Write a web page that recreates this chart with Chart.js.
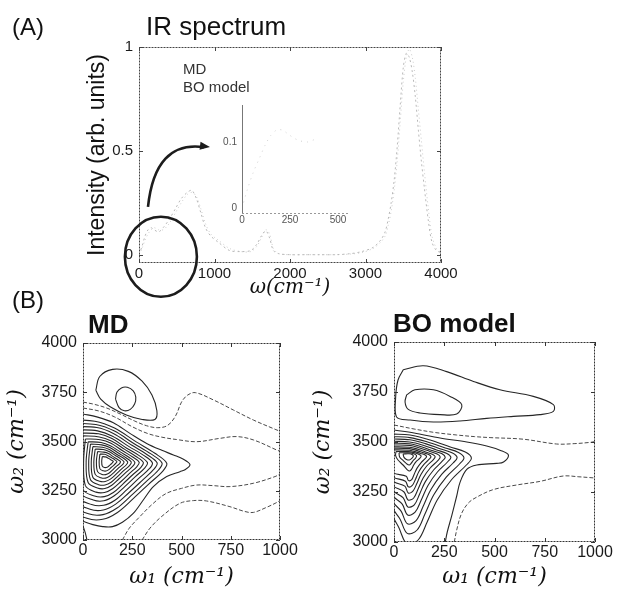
<!DOCTYPE html>
<html><head><meta charset="utf-8">
<script src="https://cdn.jsdelivr.net/npm/chart.js@4.4.1/dist/chart.umd.min.js"></script>
<style>
html,body{margin:0;padding:0;background:#fff;}
#wrap{position:relative;width:620px;height:590px;overflow:hidden;font-family:"Liberation Sans",Arial,Helvetica,sans-serif;color:#111;background:#fff;}
canvas{position:absolute;}
.t{position:absolute;white-space:nowrap;line-height:1;}
</style></head><body>
<div id="wrap">
<canvas id="cA" style="left:0;top:0;width:460px;height:300px" width="460" height="300"></canvas>
<canvas id="cIn" style="left:195px;top:90px;width:175px;height:140px" width="175" height="140"></canvas>
<canvas id="cMD" style="left:0;top:300px;width:300px;height:290px" width="300" height="290"></canvas>
<canvas id="cBO" style="left:310px;top:300px;width:310px;height:290px" width="310" height="290"></canvas>
<div class="t" style="left:12px;top:15px;font-size:24px;">(A)</div>
<div class="t" style="left:146px;top:13px;font-size:26px;">IR spectrum</div>
<div class="t" style="left:183px;top:61px;font-size:15px;color:#333;">MD</div>
<div class="t" style="left:183px;top:79px;font-size:15px;color:#333;">BO model</div>
<div class="t" style="left:12px;top:288px;font-size:24px;">(B)</div>
<div class="t" style="left:88px;top:311px;font-size:26px;font-weight:bold;">MD</div>
<div class="t" style="left:393px;top:310px;font-size:26px;font-weight:bold;">BO model</div>
</div>
<script>
const FONT = '"Liberation Sans", Arial, Helvetica, sans-serif';
const SERIF = '"DejaVu Serif", "Liberation Serif", serif';

// ---------- Panel A: IR spectrum ----------
const irWavenumber = [0,40,80,120,160,200,260,320,400,480,560,640,700,760,820,880,950,1050,1200,1350,1480,1560,1620,1680,1730,1780,1850,2000,2200,2400,2600,2800,2950,3100,3200,3260,3300,3340,3380,3420,3460,3500,3540,3580,3620,3660,3700,3740,3780,3830,3880,3940,4000];
const irMD = [0,0.04,0.09,0.12,0.13,0.12,0.11,0.13,0.17,0.22,0.27,0.30,0.31,0.27,0.20,0.13,0.09,0.06,0.02,0.015,0.02,0.05,0.09,0.115,0.08,0.02,0.005,0,0,0,0,0.005,0.015,0.035,0.07,0.11,0.17,0.25,0.36,0.52,0.72,0.90,0.97,0.95,0.88,0.76,0.60,0.45,0.32,0.17,0.06,0.02,0.01];
const irBO = [0,0.03,0.07,0.10,0.12,0.13,0.12,0.12,0.15,0.20,0.25,0.29,0.30,0.28,0.22,0.15,0.10,0.07,0.03,0.015,0.015,0.04,0.08,0.12,0.10,0.03,0.005,0,0,0,0,0.003,0.01,0.03,0.06,0.09,0.14,0.21,0.31,0.45,0.64,0.83,0.95,0.99,0.95,0.85,0.70,0.55,0.40,0.23,0.09,0.03,0.01];
const irTicksX = [0,1000,2000,3000,4000];
const irTicksY = [0,0.5,1];
const insetWavenumber = [0,30,60,90,120,150,180,210,240,270,300,340,380];
const insetIntensity = [0,0.03,0.055,0.075,0.095,0.11,0.118,0.118,0.112,0.106,0.102,0.10,0.104];
const insetTicksX = [0,250,500];
const insetTicksY = [0,0.1];
const zoomCircleCenter = [290,-0.01];
const zoomArrow = [[119,0.23],[212,0.552],[940,0.518]];

// ---------- Panel B: 2D maps ----------
const mapTicksW1 = [0,250,500,750,1000];
const mapTicksW2 = [3000,3250,3500,3750,4000];

// MD contours [w1, w2]
const mdIslandOuter = [[65,3760],[85,3830],[150,3866],[230,3856],[300,3806],[350,3736],[375,3656],[365,3612],[300,3612],[220,3635],[140,3675],[90,3715],[65,3760]];
const mdIslandInner = [[165,3715],[172,3750],[195,3772],[225,3775],[255,3757],[268,3725],[262,3690],[240,3663],[210,3656],[183,3672],[165,3715]];
const mdC1 = [[0,3700],[52,3690],[120,3670],[188,3640],[260,3605],[323,3580],[380,3570],[430,3582],[470,3630],[500,3700],[530,3735],[570,3748],[662,3711],[763,3660],[865,3609],[975,3562],[1000,3552]];
const mdC2 = [[0,3670],[80,3655],[160,3625],[250,3575],[330,3540],[400,3522],[475,3510],[577,3499],[695,3516],[780,3525],[865,3508],[983,3457],[1000,3450]];
const mdC3 = [[0,3640],[70,3625],[154,3595],[240,3540],[323,3490],[400,3455],[459,3432],[510,3410],[543,3383],[520,3358],[492,3347],[425,3322],[357,3271],[306,3203],[255,3135],[200,3090],[150,3068],[100,3068],[50,3078],[0,3095]];
const mdC4 = [[200,3000],[235,3060],[290,3120],[350,3180],[420,3235],[500,3262],[577,3279],[660,3276],[746,3271],[865,3288],[975,3322],[1000,3335]];
const mdC5 = [[300,3000],[340,3060],[400,3120],[492,3186],[560,3200],[628,3198],[746,3169],[820,3145],[865,3140],[930,3165],[975,3186],[1000,3200]];
const mdC6 = [[0,3072],[12,3035],[20,3000]];
const mdL1 = [[-80,3610],[60,3603],[160,3568],[270,3498],[365,3440],[425,3390],[405,3350],[335,3285],[255,3210],[175,3140],[100,3105],[20,3110],[-80,3170],[-80,3610]];
const mdL2 = [[-64,3593],[65,3586],[157,3554],[258,3490],[345,3437],[401,3391],[382,3354],[318,3294],[244,3225],[171,3161],[102,3129],[28,3133],[-64,3188],[-64,3593]];
const mdL3 = [[-48,3576],[70,3571],[154,3541],[246,3482],[326,3433],[376,3392],[359,3358],[301,3303],[233,3240],[166,3182],[103,3152],[36,3156],[-48,3207],[-48,3576]];
const mdL4 = [[-32,3560],[74,3554],[150,3527],[234,3474],[306,3431],[352,3392],[337,3362],[283,3313],[223,3256],[162,3202],[105,3176],[44,3180],[-32,3225],[-32,3560]];
const mdL5 = [[-16,3543],[79,3539],[147,3515],[222,3466],[287,3427],[327,3393],[314,3366],[266,3322],[212,3271],[157,3223],[106,3199],[52,3203],[-16,3244],[-16,3543]];
const mdL6 = [[-2,3529],[83,3523],[144,3502],[212,3460],[269,3424],[306,3394],[294,3369],[251,3330],[202,3284],[154,3241],[108,3220],[59,3223],[-2,3260],[-2,3529]];
const mdL7 = [[12,3513],[88,3509],[142,3491],[201,3453],[252,3421],[285,3395],[274,3373],[236,3338],[193,3297],[150,3260],[109,3241],[66,3243],[12,3276],[3,3395],[12,3513]];
const mdL8 = [[26,3499],[92,3495],[139,3478],[191,3446],[235,3419],[263,3395],[254,3376],[221,3346],[183,3311],[146,3278],[111,3261],[73,3264],[26,3292],[16,3395],[26,3499]];
const mdL9 = [[38,3487],[95,3483],[136,3469],[182,3440],[220,3416],[245,3396],[237,3379],[208,3353],[175,3322],[143,3293],[112,3279],[79,3281],[38,3306],[29,3396],[38,3487]];
const mdL10 = [[50,3474],[99,3471],[134,3459],[173,3434],[206,3415],[227,3396],[220,3382],[195,3360],[167,3333],[139,3309],[113,3297],[85,3298],[50,3319],[42,3396],[50,3474]];
const mdL11 = [[62,3462],[103,3459],[132,3449],[164,3429],[191,3412],[208,3397],[203,3385],[182,3367],[159,3345],[136,3325],[114,3314],[91,3316],[62,3333],[55,3397],[62,3462]];
const mdL12 = [[74,3449],[106,3446],[129,3439],[155,3422],[176,3409],[190,3398],[186,3388],[169,3374],[151,3356],[133,3340],[115,3332],[97,3333],[74,3347],[68,3398],[74,3449]];
const mdL13 = [[86,3436],[110,3435],[127,3428],[146,3417],[162,3407],[172,3398],[168,3391],[157,3380],[143,3368],[129,3356],[117,3350],[103,3351],[86,3361],[82,3398],[86,3436]];
const mdL14 = [[98,3424],[113,3422],[124,3418],[137,3410],[147,3404],[154,3399],[151,3394],[144,3387],[135,3379],[126,3371],[118,3368],[109,3368],[98,3375],[95,3399],[98,3424]];

// BO model contours [w1, w2]
const boIslandOuter = [[46,3861],[146,3881],[262,3852],[395,3803],[527,3761],[693,3728],[793,3687],[793,3653],[726,3637],[594,3628],[461,3618],[328,3605],[196,3600],[80,3610],[13,3625],[8,3720],[20,3810],[46,3861]];
const boIslandInner = [[63,3736],[104,3761],[196,3761],[279,3728],[337,3687],[312,3640],[229,3637],[129,3645],[71,3663],[55,3700],[63,3736]];
const boC2 = [[0,3585],[100,3565],[200,3548],[312,3535],[400,3527],[478,3522],[643,3514],[809,3490],[900,3492],[975,3498],[1000,3502]];
const boC3 = [[0,3560],[100,3545],[229,3520],[362,3500],[461,3480],[530,3458],[569,3435],[545,3400],[511,3393],[412,3385],[362,3363],[328,3297],[312,3230],[287,3131],[265,3050],[255,3000]];
const boC4 = [[300,3000],[312,3060],[335,3140],[370,3195],[411,3224],[494,3262],[610,3285],[726,3303],[842,3330],[920,3326],[975,3322],[1000,3320]];
const boL1 = [[-10,3540],[80,3535],[180,3510],[280,3475],[355,3450],[385,3420],[360,3385],[285,3310],[215,3210],[165,3100],[120,3010],[65,2990],[25,3070],[-10,3150],[-10,3540]];
const boL2 = [[-10,3527],[79,3522],[167,3500],[255,3470],[321,3448],[348,3421],[326,3390],[260,3324],[198,3236],[154,3140],[115,3060],[66,3043],[31,3113],[-10,3184],[-10,3527]];
const boL3 = [[-10,3515],[79,3511],[156,3492],[233,3465],[291,3445],[314,3422],[294,3395],[237,3338],[183,3261],[144,3176],[110,3107],[67,3091],[36,3153],[-10,3214],[-10,3515]];
const boL4 = [[-10,3504],[78,3500],[145,3484],[212,3460],[263,3443],[283,3423],[266,3400],[216,3350],[169,3283],[135,3209],[105,3149],[68,3135],[41,3189],[-10,3242],[-10,3504]];
const boL5 = [[-10,3494],[78,3491],[136,3476],[194,3456],[237,3442],[255,3424],[240,3404],[197,3360],[156,3302],[127,3239],[101,3186],[69,3175],[46,3221],[-10,3267],[-10,3494]];
const boL6 = [[-10,3485],[78,3483],[128,3470],[178,3453],[215,3440],[230,3425],[218,3407],[180,3370],[145,3320],[120,3265],[98,3220],[70,3210],[50,3250],[-10,3290],[-10,3485]];
const boL7 = [[-10,3476],[77,3474],[119,3464],[161,3449],[193,3438],[205,3426],[195,3411],[163,3380],[134,3338],[113,3291],[94,3254],[71,3245],[54,3279],[-10,3312],[-10,3476]];
const boL8 = [[-10,3469],[77,3467],[112,3458],[147,3446],[173,3437],[184,3426],[175,3414],[149,3388],[124,3353],[107,3314],[91,3283],[71,3276],[57,3304],[-10,3332],[-10,3469]];
const boL9 = [[-10,3461],[76,3459],[104,3452],[132,3443],[153,3436],[162,3427],[155,3417],[134,3396],[114,3368],[100,3338],[88,3312],[72,3307],[61,3329],[-10,3352],[-10,3461]];
const boL10 = [[10,3452],[70,3452],[100,3447],[120,3440],[135,3430],[128,3418],[112,3404],[98,3385],[88,3365],[78,3355],[65,3362],[45,3385],[20,3410],[8,3432],[10,3452]];
const boL11 = [[25,3446],[70,3446],[98,3441],[112,3432],[108,3420],[96,3408],[85,3393],[76,3385],[62,3392],[45,3408],[28,3425],[25,3446]];
const boL12 = [[45,3440],[75,3441],[92,3436],[96,3428],[88,3418],[76,3410],[62,3413],[50,3423],[45,3440]];

const mdDashedLines = [mdC1, mdC2, mdC4, mdC5];
const mdSolidLines = [mdIslandOuter, mdIslandInner, mdC3, mdC6, mdL1, mdL2, mdL3, mdL4, mdL5, mdL6, mdL7, mdL8, mdL9, mdL10, mdL11, mdL12, mdL13, mdL14];
const boDashedLines = [boC2, boC4];
const boSolidLines = [boIslandOuter, boIslandInner, boC3, boL1, boL2, boL3, boL4, boL5, boL6, boL7, boL8, boL9, boL10, boL11, boL12];

// ---------- helpers ----------
function setTicks(list){ return s => { s.ticks = list.map(v => ({value: v})); }; }
function framePlugin(color, dash, tickLen){
  return { id:'frame', afterDatasetsDraw(chart){
    const {ctx, chartArea:a, scales:{x, y}} = chart;
    ctx.save();
    ctx.strokeStyle = color; ctx.lineWidth = 1; ctx.setLineDash(dash);
    ctx.strokeRect(Math.round(a.left)+0.5, Math.round(a.top)+0.5, Math.round(a.right-a.left)-1, Math.round(a.bottom-a.top)-1);
    ctx.setLineDash([]);
    ctx.beginPath();
    x.ticks.forEach(t => { const p = Math.round(x.getPixelForValue(t.value))+0.5;
      ctx.moveTo(p, a.bottom); ctx.lineTo(p, a.bottom-tickLen); ctx.moveTo(p, a.top); ctx.lineTo(p, a.top+tickLen); });
    y.ticks.forEach(t => { const p = Math.round(y.getPixelForValue(t.value))+0.5;
      ctx.moveTo(a.left, p); ctx.lineTo(a.left+tickLen, p); ctx.moveTo(a.right, p); ctx.lineTo(a.right-tickLen, p); });
    ctx.stroke();
    ctx.restore();
  }};
}
const baseOpts = { responsive:false, animation:false, events:[], plugins:{legend:{display:false}, tooltip:{enabled:false}} };
function pts(xs, ys){ return xs.map((v,i)=>({x:v, y:ys[i]})); }
function loop(arr){ return arr.map(p=>({x:p[0], y:p[1]})); }

// ---------- Chart A ----------
const annotA = { id:'annotA', afterDraw(chart){
  const {ctx, scales:{x, y}} = chart;
  const cx = x.getPixelForValue(zoomCircleCenter[0]), cy = y.getPixelForValue(zoomCircleCenter[1]);
  ctx.save();
  ctx.strokeStyle = '#1c1c1c'; ctx.fillStyle = '#1c1c1c'; ctx.lineWidth = 2.6;
  ctx.beginPath(); ctx.ellipse(cx, cy, 36, 40, 0, 0, Math.PI*2); ctx.stroke();
  const P = zoomArrow.map(p => [x.getPixelForValue(p[0]), y.getPixelForValue(p[1])]);
  ctx.beginPath(); ctx.moveTo(P[0][0], P[0][1]); ctx.quadraticCurveTo(P[1][0], P[1][1], P[2][0]-6, P[2][1]); ctx.stroke();
  const ang = Math.atan2(P[2][1]-P[1][1], P[2][0]-P[1][0]);
  ctx.beginPath();
  ctx.moveTo(P[2][0], P[2][1]);
  ctx.lineTo(P[2][0]-10*Math.cos(ang)+4*Math.sin(ang), P[2][1]-10*Math.sin(ang)-4*Math.cos(ang));
  ctx.lineTo(P[2][0]-10*Math.cos(ang)-4*Math.sin(ang), P[2][1]-10*Math.sin(ang)+4*Math.cos(ang));
  ctx.closePath(); ctx.fill();
  ctx.restore();
}};
new Chart(document.getElementById('cA'), {
  type:'line',
  data:{ datasets:[
    {label:'MD', data:pts(irWavenumber, irMD), borderColor:'#b8b8b8', borderWidth:1, borderDash:[2,3], pointRadius:0, tension:0.3},
    {label:'BO model', data:pts(irWavenumber, irBO), borderColor:'#cccccc', borderWidth:1, borderDash:[1,3], pointRadius:0, tension:0.3}
  ]},
  options:Object.assign({}, baseOpts, {
    layout:{padding:{top:47, right:19, left:0, bottom:0}},
    scales:{
      x:{type:'linear', min:0, max:4000, afterBuildTicks:setTicks(irTicksX), afterFit:s=>{s.height=37;},
         grid:{display:false, drawTicks:false}, border:{display:false},
         ticks:{callback:v=>String(v), font:{family:FONT, size:15}, color:'#1a1a1a', padding:2, maxRotation:0, autoSkip:false},
         title:{display:true, text:'ω(cm⁻¹)', font:{family:SERIF, size:20, style:'italic'}, color:'#111', padding:0}},
      y:{type:'linear', min:-0.04, max:1, afterBuildTicks:setTicks(irTicksY), afterFit:s=>{s.width=139;},
         grid:{display:false, drawTicks:false}, border:{display:false},
         ticks:{callback:v=>String(v), font:{family:FONT, size:15}, color:'#1a1a1a', padding:6},
         title:{display:true, text:'Intensity (arb. units)', font:{family:FONT, size:23}, color:'#111', padding:{top:84, bottom:0}}}
    }
  }),
  plugins:[framePlugin('#444', [2,1], 4), annotA]
});

// ---------- Inset ----------
const insetAxes = { id:'insetAxes', afterDatasetsDraw(chart){
  const {ctx, chartArea:a} = chart;
  ctx.save(); ctx.strokeStyle = '#777'; ctx.lineWidth = 1;
  ctx.beginPath(); ctx.moveTo(Math.round(a.left)+0.5, a.top); ctx.lineTo(Math.round(a.left)+0.5, a.bottom); ctx.stroke();
  ctx.setLineDash([2,2]); ctx.strokeStyle = '#999';
  ctx.beginPath(); ctx.moveTo(a.left, Math.round(a.bottom)-0.5); ctx.lineTo(a.right, Math.round(a.bottom)-0.5); ctx.stroke();
  ctx.restore();
}};
new Chart(document.getElementById('cIn'), {
  type:'line',
  data:{ datasets:[
    {label:'MD (low frequency)', data:pts(insetWavenumber, insetIntensity), borderColor:'#d0d0d0', borderWidth:1, borderDash:[1,5], pointRadius:0, tension:0.3}
  ]},
  options:Object.assign({}, baseOpts, {
    layout:{padding:{top:15, right:20, left:0, bottom:0}},
    scales:{
      x:{type:'linear', min:0, max:562, afterBuildTicks:setTicks(insetTicksX), afterFit:s=>{s.height=16;},
         grid:{display:false, drawTicks:false}, border:{display:false},
         ticks:{callback:v=>String(v), font:{family:FONT, size:10}, color:'#555', padding:0, maxRotation:0, autoSkip:false}},
      y:{type:'linear', min:-0.009, max:0.156, afterBuildTicks:setTicks(insetTicksY), afterFit:s=>{s.width=47;},
         grid:{display:false, drawTicks:false}, border:{display:false},
         ticks:{callback:v=>String(v), font:{family:FONT, size:10}, color:'#555', padding:5}}
    }
  }),
  plugins:[insetAxes]
});

// ---------- Panel B charts ----------
function mapChart(id, dashed, solid, pad, yWidth, xHeight, yTitlePad){
  const ds = [];
  dashed.forEach((c,i)=>ds.push({label:'contour d'+i, data:loop(c), showLine:true, borderColor:'#4a4a4a', borderWidth:1, borderDash:[4,2], pointRadius:0, tension:0.35}));
  solid.forEach((c,i)=>ds.push({label:'contour s'+i, data:loop(c), showLine:true, borderColor:'#262626', borderWidth:1.1, pointRadius:0, tension:0.35}));
  return new Chart(document.getElementById(id), {
    type:'scatter',
    data:{datasets:ds},
    options:Object.assign({}, baseOpts, {
      layout:{padding:pad},
      scales:{
        x:{type:'linear', min:0, max:1000, afterBuildTicks:setTicks(mapTicksW1), afterFit:s=>{s.height=xHeight;},
           grid:{display:false, drawTicks:false}, border:{display:false},
           ticks:{callback:v=>String(v), font:{family:FONT, size:16}, color:'#1a1a1a', padding:1, maxRotation:0, autoSkip:false},
           title:{display:true, text:'ω₁ (cm⁻¹)', font:{family:SERIF, size:22, style:'italic'}, color:'#111', padding:0}},
        y:{type:'linear', min:3000, max:4000, afterBuildTicks:setTicks(mapTicksW2), afterFit:s=>{s.width=yWidth;},
           grid:{display:false, drawTicks:false}, border:{display:false},
           ticks:{callback:v=>String(v), font:{family:FONT, size:16}, color:'#1a1a1a', padding:6},
           title:{display:true, text:'ω₂ (cm⁻¹)', font:{family:SERIF, size:22, style:'italic'}, color:'#111', padding:{top:yTitlePad, bottom:0}}}
      }
    }),
    plugins:[framePlugin('#333', [2,1], 4)]
  });
}
mapChart('cMD', mdDashedLines, mdSolidLines, {top:43, right:20, left:0, bottom:0}, 83, 50, 4);
mapChart('cBO', boDashedLines, boSolidLines, {top:42, right:25, left:0, bottom:0}, 84, 48, 0);
</script>
</body></html>
